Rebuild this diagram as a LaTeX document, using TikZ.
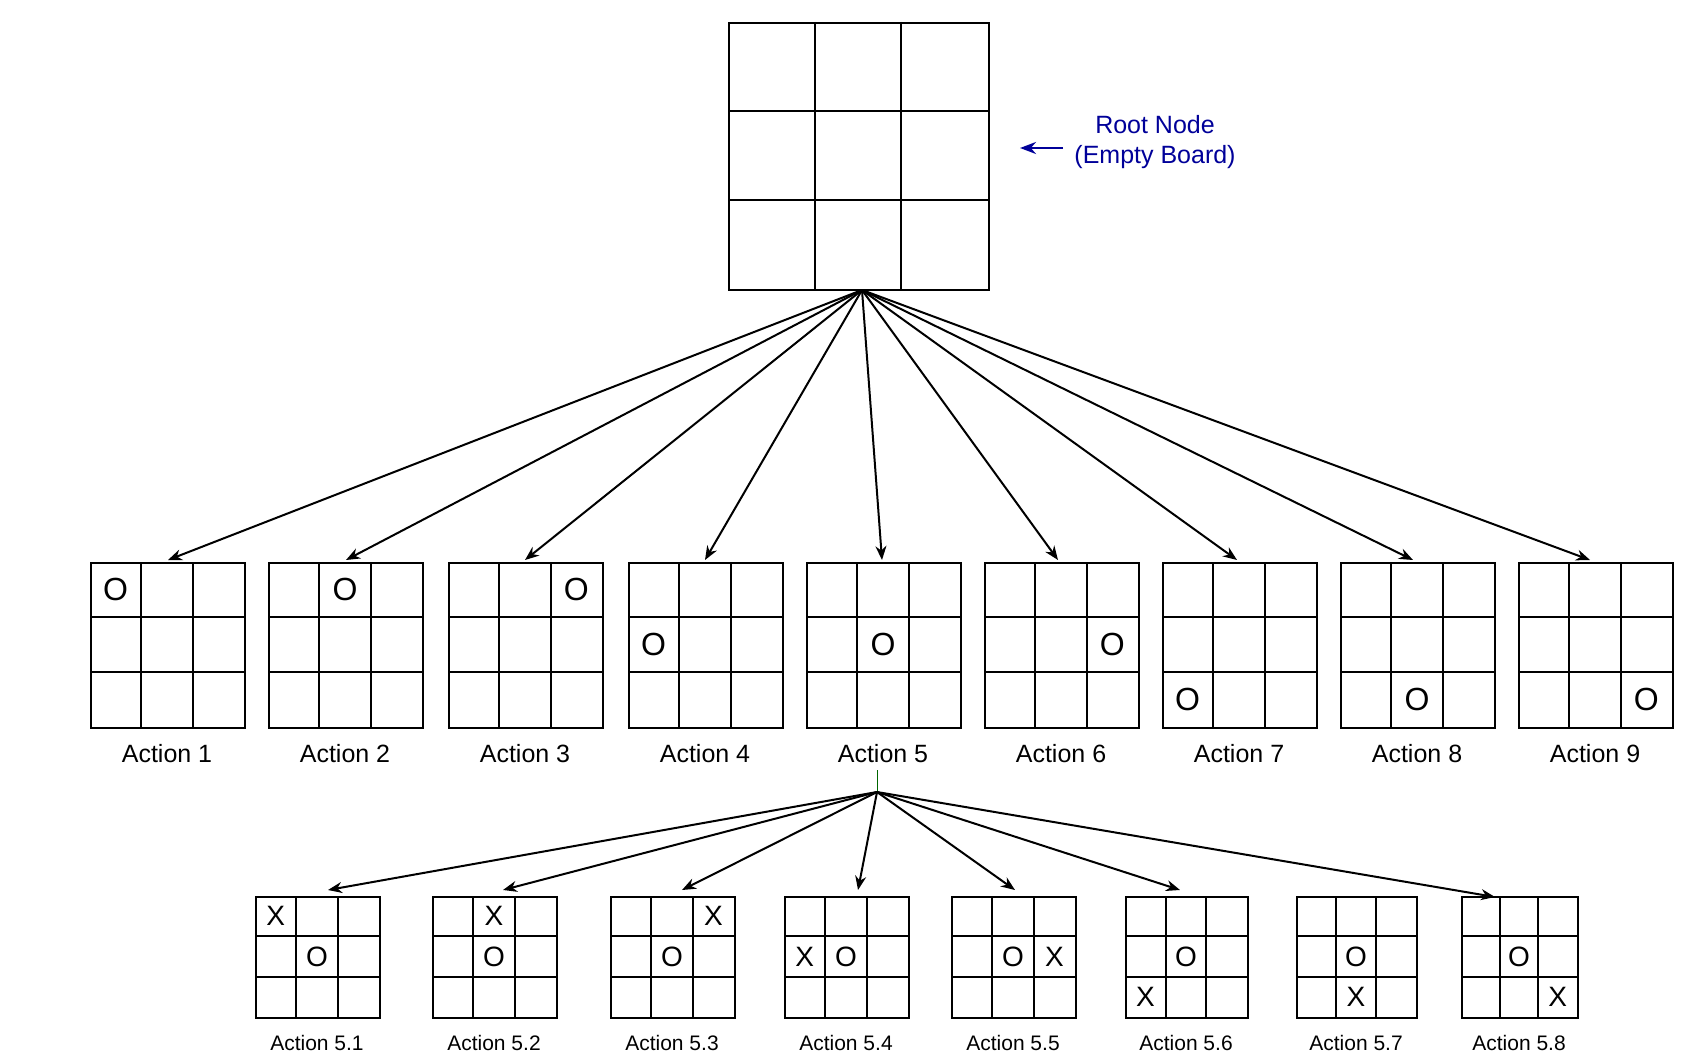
\documentclass[tikz,border=0pt]{standalone}
\usepackage{fontspec}
\setmainfont{Liberation Sans}
\usetikzlibrary{arrows.meta}
\tikzset{every picture/.style={line width=2pt},
  board/.style={draw, line width=2pt, inner sep=0pt},
  mark/.style={font=\fontsize{#1}{#1}\selectfont, inner sep=0pt},
  mark/.default=32pt,
  label1/.style={font=\fontsize{25pt}{25pt}\selectfont, inner sep=0pt},
  label2/.style={font=\fontsize{21pt}{21pt}\selectfont, inner sep=0pt},
  move/.style={-{Stealth[length=14pt,width=11pt]}, line width=2pt}}
% board: name, left, top, width, height
\newcommand{\board}[5]{%
  \node[board, minimum width=#4, minimum height=#5, anchor=north west] (#1) at (#2,#3) {};
  \foreach \k in {1,2}{
    \draw ({#2+\k*#4/3},#3) -- ({#2+\k*#4/3},{#3+#5});
    \draw (#2,{#3+\k*#5/3}) -- ({#2+#4},{#3+\k*#5/3});
  }}
\begin{document}
\begin{tikzpicture}[x=1pt,y=1pt,yscale=-1]
\useasboundingbox (0,0) rectangle (1693,1057);

%Root board
\board{root}{728}{22}{260}{267}
\coordinate (rs) at (862,290);
\draw[blue!60!black, -{Stealth[length=16pt,width=12pt]}, line width=2.5pt] (1063,148) -- (1020,148);
\node[font=\fontsize{25pt}{30pt}\selectfont, text=blue!60!black, align=center] (rootlbl) at (1155,142) {Root Node\\(Empty Board)};

%Level 1
\foreach \i/\x/\t in {1/90/168,2/268/346,3/448/525,4/628/705,5/806/882,6/984/1058,7/1162/1237,8/1340/1413,9/1518/1590}{
  \board{a\i}{\x}{562}{154}{165}
  \pgfmathtruncatemacro{\c}{mod(\i-1,3)}
  \pgfmathtruncatemacro{\r}{(\i-1)/3}
  \node[mark] (o\i) at ({\x+(\c+.5)*154/3},{562+(\r+.5)*165/3}) {O};
  \node[label1] (l\i) at ({\x+77},754) {Action \i};
  \coordinate (t\i) at (\t,560);
  \draw[move] (rs) -- (t\i);
}

%Level 2
\draw[green!40!black, line width=1pt] (877,770) -- (877,792);
\coordinate (bs) at (877,792);
\foreach \j/\x/\w/\xc/\xr in {1/255/124/0/0,2/432/124/1/0,3/610/124/2/0,4/784/124/0/1,5/951/124/2/1,6/1125/122/0/2,7/1296/120/1/2,8/1461/116/2/2}{
  \board{b\j}{\x}{896}{\w}{121}
  \node[mark=28pt] (bo\j) at ({\x+1.5*\w/3},{896+1.5*121/3}) {O};
  \node[mark=28pt] (bx\j) at ({\x+(\xc+.5)*\w/3},{896+(\xr+.5)*121/3}) {X};
  \node[label2] (m\j) at ({\x+\w/2},1043) {Action 5.\j};
}
\foreach \j/\t in {1/328,2/503,3/682,4/858,5/1015,6/1180,8/1495}{
  \coordinate (u\j) at (\t,{\j==8 ? 897 : 890});
  \draw[move] (bs) -- (u\j);
}
\end{tikzpicture}
\end{document}
